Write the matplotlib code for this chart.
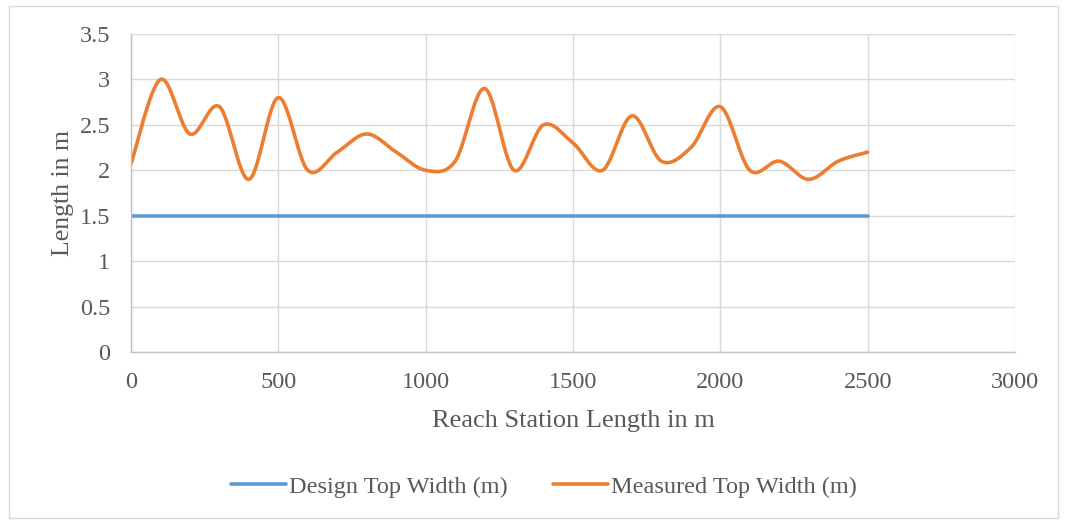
import numpy as np
import matplotlib
matplotlib.use("Agg")
import matplotlib.pyplot as plt
from matplotlib.patches import Rectangle

# Station chainage (m) and measured channel top widths (m)
stations = [0, 100, 200, 300, 400, 500, 600, 700, 800, 900, 1000, 1100, 1200,
            1300, 1400, 1500, 1600, 1700, 1800, 1900, 2000, 2100, 2200, 2300,
            2400, 2500]
measured_width = [2.07, 3.0, 2.4, 2.7, 1.9, 2.8, 2.0, 2.2, 2.4, 2.2, 2.0, 2.1,
                  2.9, 2.0, 2.5, 2.3, 2.0, 2.6, 2.1, 2.25, 2.7, 2.0, 2.1, 1.9,
                  2.1, 2.2]
design_width = [1.5] * len(stations)

x_ticks = [0, 500, 1000, 1500, 2000, 2500, 3000]
y_ticks = [0, 0.5, 1, 1.5, 2, 2.5, 3, 3.5]


def smooth_curve(xs, ys, n=30):
    """Cubic Bezier smoothing through every point (spreadsheet-style)."""
    p = np.column_stack([xs, ys]).astype(float)
    ext = np.vstack([p[0], p, p[-1]])
    out = []
    t = np.linspace(0, 1, n, endpoint=False)[:, None]
    for i in range(len(p) - 1):
        p0, p1, p2, p3 = ext[i], ext[i + 1], ext[i + 2], ext[i + 3]
        c1 = p1 + (p2 - p0) / 6.0
        c2 = p2 - (p3 - p1) / 6.0
        seg = ((1 - t) ** 3) * p1 + 3 * ((1 - t) ** 2) * t * c1 \
            + 3 * (1 - t) * t ** 2 * c2 + t ** 3 * p2
        out.append(seg)
    out.append(p[-1][None, :])
    out = np.vstack(out)
    return out[:, 0], out[:, 1]


plt.rcParams['font.family'] = ['Liberation Serif', 'DejaVu Serif']

fig = plt.figure(figsize=(10.65, 5.23), dpi=100)
W, H = 1065, 523
ax = fig.add_axes([131 / W, 1 - 352 / H, (1015 - 131) / W, (352 - 34) / H])

# chart frame
fig.patches.append(Rectangle((9 / W, 1 - 518 / H), (1058 - 9) / W, (518 - 6) / H,
                             transform=fig.transFigure, fill=False,
                             edgecolor='#d9d9d9', linewidth=1.0))

blue = '#5B9BD5'
orange = '#ED7D31'
text_col = '#595959'

ax.plot(stations, design_width, color=blue, lw=2.6, solid_capstyle='round',
        label='Design Top Width (m)')
sx, sy = smooth_curve(stations, measured_width)
ax.plot(sx, sy, color=orange, lw=2.6, solid_capstyle='round',
        label='Measured Top Width (m)')

ax.set_xlim(0, 3000)
ax.set_ylim(0, 3.5)
ax.set_xticks(x_ticks)
ax.set_yticks(y_ticks)
ax.set_yticklabels(['0', '0.5', '1', '1.5', '2', '2.5', '3', '3.5'])
ax.grid(True, color='#d9d9d9', linewidth=1.0)
ax.set_axisbelow(True)
for side in ['top', 'right']:
    ax.spines[side].set_visible(False)
for side in ['left', 'bottom']:
    ax.spines[side].set_color('#bfbfbf')
    ax.spines[side].set_linewidth(1.0)
ax.tick_params(length=0, labelsize=17.5, colors=text_col)
ax.tick_params(axis='x', pad=14.5)
ax.tick_params(axis='y', pad=15)

ax.set_xlabel('Reach Station Length in m', fontsize=19, color=text_col, labelpad=12)
ax.set_ylabel('Length in m', fontsize=18.5, color=text_col, labelpad=4)

ax.legend(loc='center', bbox_to_anchor=(544 / W, 1 - 487 / H), bbox_transform=fig.transFigure,
          ncol=2, frameon=False, fontsize=17.5, labelcolor=text_col,
          handlelength=2.26, handletextpad=0.12, columnspacing=1.85)

fig.savefig('out.png', dpi=100, facecolor='white')
